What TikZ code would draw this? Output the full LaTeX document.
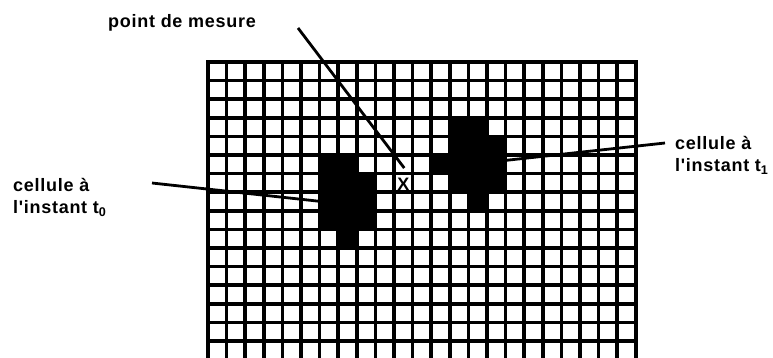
\documentclass[tikz,border=0pt]{standalone}
\usepackage{fontspec}
\newfontfamily\lblfont[LetterSpace=4]{Liberation Sans}
\begin{document}
\begin{tikzpicture}[x=1pt, y=-1pt,
    lbl/.style={font=\lblfont\bfseries\fontsize{18}{22}\selectfont, inner sep=0pt},
    lead/.style={line width=2.8pt},
    gridline/.style={line width=3.7pt, line cap=rect}]
    \useasboundingbox (0,0) rectangle (773,357);

    % radar grid, one unit = one cell
    \begin{scope}[shift={(208,62)}, x=18.6pt, y=18.6pt, yscale=-1]
        \foreach \c/\r in {6/5,7/5,6/6,7/6,8/6,6/7,7/7,8/7,6/8,7/8,8/8,7/9}
            \fill (\c,\r) rectangle ++(1,1);
        \foreach \c/\r in {13/3,14/3,13/4,14/4,15/4,12/5,13/5,14/5,15/5,13/6,14/6,15/6,14/7}
            \fill (\c,\r) rectangle ++(1,1);
        \foreach \c in {0,...,23}
            \draw[gridline] (\c,0) -- (\c,16.2);
        \foreach \r in {0,...,15}
            \draw[gridline] (0,\r) -- (23,\r);
        \node[font=\lblfont\bfseries\fontsize{18}{18}\selectfont, inner sep=0pt] (mark) at (10.5,6.6) {X};
        \coordinate (pm) at (10.55,5.7);
        \coordinate (c0) at (6.1,7.5);
        \coordinate (c1) at (15.9,5.3);
    \end{scope}

    % labels
    \node[lbl, anchor=base west] (mesure) at (108,27.3) {point de mesure};
    \node[lbl, align=left, anchor=north west] (cell0) at (13,178) {cellule à\\l'instant t\textsubscript{0}};
    \node[lbl, align=left, anchor=north west] (cell1) at (675,136) {cellule à\\l'instant t\textsubscript{1}};

    \coordinate (m0) at (298,28);
    \coordinate (a0) at (152,183);
    \coordinate (a1) at (665,143);
    \draw[lead] (m0) -- (pm);
    \draw[lead] (a0) -- (c0);
    \draw[lead] (a1) -- (c1);
\end{tikzpicture}
\end{document}
